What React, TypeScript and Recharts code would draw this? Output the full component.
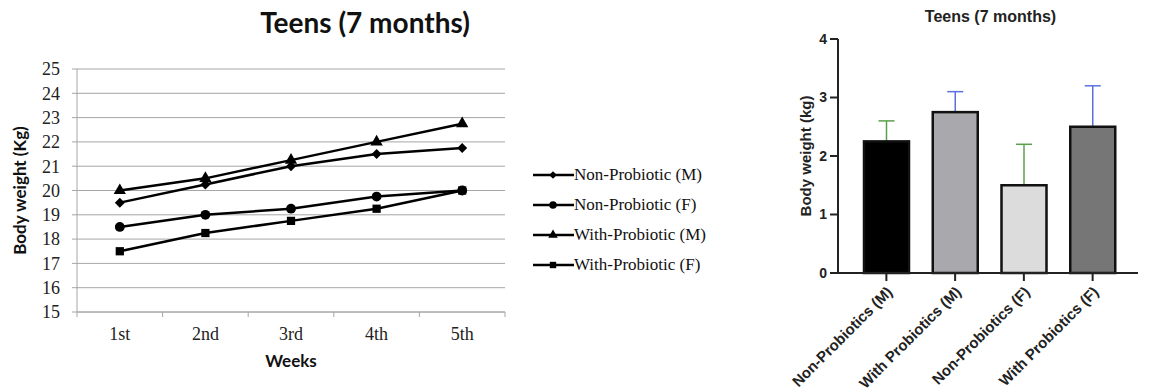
import React from 'react';
import { LineChart, Line, XAxis, YAxis, CartesianGrid, Legend, BarChart, Bar, Symbols } from 'recharts';

// left panel: weekly body weight
const weeks = ['1st', '2nd', '3rd', '4th', '5th'];
const nonProbioticM = [19.5, 20.25, 21, 21.5, 21.75];
const nonProbioticF = [18.5, 19, 19.25, 19.75, 20];
const withProbioticM = [20, 20.5, 21.25, 22, 22.75];
const withProbioticF = [17.5, 18.25, 18.75, 19.25, 20];
const weightTicks = [15, 16, 17, 18, 19, 20, 21, 22, 23, 24, 25];

// right panel: weight gain with error bars
const groups = ['Non-Probiotics (M)', 'With Probiotics (M)', 'Non-Probiotics (F)', 'With Probiotics (F)'];
const gainMeans = [2.25, 2.75, 1.5, 2.5];
const gainUpper = [2.6, 3.1, 2.2, 3.2];
const barFills = ['#000000', '#a9a9ad', '#dcdcdc', '#767676'];
const errorColors = ['#5b9f4c', '#5c6fe0', '#5b9f4c', '#5c6fe0'];
const gainTicks = [0, 1, 2, 3, 4];

const SERIF = '"Liberation Serif", "Times New Roman", serif';
const SANS = '"Liberation Sans", Arial, sans-serif';
const GRID = '#a6a6a6';

const lineSeries = [
  { key: 'npm', name: 'Non-Probiotic (M)', values: nonProbioticM, marker: 'rhombus', size: 50 },
  { key: 'npf', name: 'Non-Probiotic (F)', values: nonProbioticF, marker: 'circle', size: 75 },
  { key: 'wpm', name: 'With-Probiotic (M)', values: withProbioticM, marker: 'triangle', size: 65 },
  { key: 'wpf', name: 'With-Probiotic (F)', values: withProbioticF, marker: 'square', size: 68 },
];

const lineData = weeks.map((week, i) => {
  const row: Record<string, any> = { week };
  lineSeries.forEach(s => { row[s.key] = s.values[i]; });
  return row;
});

const barData = groups.map((name, i) => ({
  name,
  mean: gainMeans[i],
  upper: gainUpper[i],
  fill: barFills[i],
  errColor: errorColors[i],
}));

// Excel's diamond is a square turned 45 degrees
const Marker = ({ cx, cy, type, size }: any) => {
  if (type === 'rhombus') {
    return (
      <g transform={`rotate(45, ${cx}, ${cy})`}>
        <Symbols cx={cx} cy={cy} type="square" size={size} fill="#000" stroke="none" />
      </g>
    );
  }
  return <Symbols cx={cx} cy={cy} type={type} size={size} fill="#000" stroke="none" />;
};

const makeDot = (type: any, size: number) => (props: any) => {
  const { cx, cy, index } = props;
  if (cx == null || cy == null) return <g key={index} />;
  return <Marker key={index} cx={cx} cy={cy} type={type} size={size} />;
};

// Excel style tick: label at category centre, tick marks at band edges
const WeekTick = (props: any) => {
  const { x, y, payload, width, index, visibleTicksCount } = props;
  const half = (width || 428) / weeks.length / 2;
  const last = index === (visibleTicksCount ?? weeks.length) - 1;
  return (
    <g>
      <line x1={x - half} x2={x - half} y1={y} y2={y + 5} stroke={GRID} />
      {last && <line x1={x + half} x2={x + half} y1={y} y2={y + 5} stroke={GRID} />}
      <text x={x} y={y + 28} textAnchor="middle" fill="#222" fontSize={18} fontFamily={SERIF}>
        {payload.value}
      </text>
    </g>
  );
};

const LeftYLabel = (props: any) => {
  const { viewBox } = props;
  const cx = viewBox.x + 19;
  const cy = viewBox.y + viewBox.height / 2;
  return (
    <text x={cx} y={cy} transform={`rotate(-90, ${cx}, ${cy})`} textAnchor="middle" dominantBaseline="central"
      fontFamily="Lato, sans-serif" fontWeight={700} fontSize={17} fill="#111">
      Body weight (Kg)
    </text>
  );
};

const WeeksLabel = (props: any) => {
  const { viewBox } = props;
  return (
    <text x={viewBox.x + viewBox.width / 2} y={viewBox.y + 55} textAnchor="middle"
      fontFamily="Lato, sans-serif" fontWeight={700} fontSize={17} fill="#111">
      Weeks
    </text>
  );
};

const LegendContent = () => (
  <div style={{ fontFamily: SERIF, fontSize: 17, color: '#111' }}>
    {lineSeries.map(s => (
      <div key={s.key} style={{ display: 'flex', alignItems: 'center', height: 30 }}>
        <svg width={41} height={20} style={{ display: 'block' }}>
          <line x1={0} x2={41} y1={10} y2={10} stroke="#000" strokeWidth={2.5} />
          <Marker cx={20} cy={10} type={s.marker} size={s.size * 0.6} />
        </svg>
        <span style={{ whiteSpace: 'nowrap' }}>{s.name}</span>
      </div>
    ))}
  </div>
);

const GainBar = (props: any) => {
  const { x, y, width, height, payload } = props;
  const perUnit = height / payload.mean;
  const topY = y - (payload.upper - payload.mean) * perUnit;
  const cx = x + width / 2;
  return (
    <g>
      <line x1={cx} x2={cx} y1={y} y2={topY} stroke={payload.errColor} strokeWidth={1.5} />
      <line x1={cx - 8} x2={cx + 8} y1={topY} y2={topY} stroke={payload.errColor} strokeWidth={1.5} />
      <rect x={x} y={y} width={width} height={height} fill={payload.fill} stroke="#111" strokeWidth={2.5} />
    </g>
  );
};

const GroupTick = (props: any) => {
  const { x, y, payload } = props;
  const tx = x + 3;
  const ty = y + 8;
  return (
    <text x={tx} y={ty} transform={`rotate(-45, ${tx}, ${ty})`} textAnchor="end" dominantBaseline="central"
      fontFamily={SANS} fontWeight={700} fontSize={15} fill="#222">
      {payload.value}
    </text>
  );
};

const RightYLabel = (props: any) => {
  const { viewBox } = props;
  const cx = viewBox.x + 65;
  const cy = viewBox.y + viewBox.height / 2;
  return (
    <text x={cx} y={cy} transform={`rotate(-90, ${cx}, ${cy})`} textAnchor="middle" dominantBaseline="central"
      fontFamily={SANS} fontWeight={700} fontSize={15} fill="#222">
      Body weight (kg)
    </text>
  );
};

export default function App() {
  return (
    <div style={{ position: 'absolute', left: 0, top: 0, width: 1157, height: 392, background: '#fff', overflow: 'hidden' }}>
      <div style={{ position: 'absolute', left: 0, top: 5, width: 730, textAlign: 'center', fontFamily: 'Lato, sans-serif',
        fontWeight: 700, fontSize: 28, lineHeight: '34px', color: '#111' }}>
        Teens (7 months)
      </div>
      <div style={{ position: 'absolute', left: 0, top: 0 }}>
        <LineChart width={740} height={392} data={lineData} margin={{ top: 69, right: 235, left: 0, bottom: 0 }}>
          <CartesianGrid vertical={false} stroke={GRID} />
          <XAxis dataKey="week" scale="band" height={80} axisLine={{ stroke: GRID }} tickLine={false} tickSize={0}
            tickMargin={0} tick={<WeekTick />} interval={0} label={<WeeksLabel />} />
          <YAxis width={77} domain={[15, 25]} ticks={weightTicks} interval={0} axisLine={{ stroke: GRID }}
            tickLine={{ stroke: GRID }} tickSize={5} tickMargin={12}
            tick={{ fill: '#222', fontSize: 18, fontFamily: SERIF }} label={<LeftYLabel />} />
          <Legend layout="vertical" align="center" verticalAlign="middle" content={<LegendContent />}
            wrapperStyle={{ left: 533, top: 160, width: 200 }} />
          {lineSeries.map(s => (
            <Line key={s.key} dataKey={s.key} name={s.name} type="linear" stroke="#000" strokeWidth={2.5}
              dot={makeDot(s.marker, s.size)} activeDot={false} isAnimationActive={false} />
          ))}
        </LineChart>
      </div>
      <div style={{ position: 'absolute', left: 740, top: 8, width: 417, textAlign: 'center', paddingLeft: 84,
        boxSizing: 'border-box', fontFamily: SANS, fontWeight: 700, fontSize: 16, lineHeight: '18px', color: '#222' }}>
        Teens (7 months)
      </div>
      <div style={{ position: 'absolute', left: 740, top: 0 }}>
        <BarChart width={417} height={392} data={barData} margin={{ top: 39, right: 19, left: 0, bottom: 0 }}>
          <XAxis dataKey="name" height={119} padding={{ left: 14, right: 11 }} interval={0}
            axisLine={{ stroke: '#222', strokeWidth: 2 }} tickLine={{ stroke: '#222', strokeWidth: 2 }}
            tickSize={8} tickMargin={0} tick={<GroupTick />} />
          <YAxis width={98} domain={[0, 4]} ticks={gainTicks} interval={0}
            axisLine={{ stroke: '#222', strokeWidth: 2 }} tickLine={{ stroke: '#222', strokeWidth: 2 }}
            tickSize={8} tickMargin={3} tick={{ fill: '#222', fontSize: 14, fontWeight: 700, fontFamily: SANS }}
            label={<RightYLabel />} />
          <Bar dataKey="mean" barSize={45} shape={<GainBar />} isAnimationActive={false} />
        </BarChart>
      </div>
    </div>
  );
}
